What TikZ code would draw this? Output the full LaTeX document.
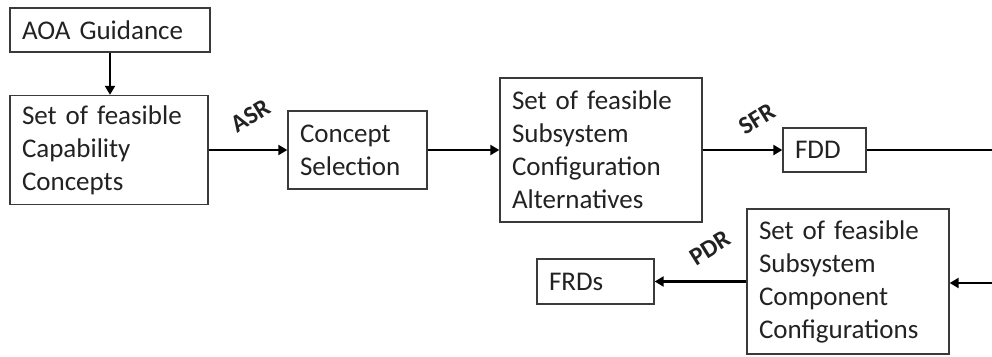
\documentclass[tikz,border=0pt]{standalone}
\usepackage{fontspec}
\setmainfont{Carlito}[WordSpace=0.55]
\usetikzlibrary{arrows.meta}
\definecolor{txt}{HTML}{222222}
\definecolor{edge}{HTML}{3A3A3A}
\begin{document}
\begin{tikzpicture}[x=1pt,y=-1pt,
  box/.style={draw=edge, line width=1.3pt, align=left, text=txt,
    inner xsep=12pt, inner ysep=0pt, anchor=center,
    font=\fontsize{27}{33}\selectfont},
  arr/.style={line width=2.2pt, -{Triangle[length=9pt,width=10pt]}},
  plain/.style={line width=2.2pt},
  lbl/.style={font=\bfseries\fontsize{25}{27}\selectfont, rotate=32, text=txt, inner sep=0pt}]
\useasboundingbox (0,0) rectangle (992,356);
\node[box, text width=176pt, minimum height=44pt] (aoa) at (110,30) {AOA Guidance};
\node[box, text width=174pt, minimum height=109pt] (cap) at (109,150) {Set of feasible\\Capability\\Concepts};
\node[box, text width=115pt, minimum height=78pt] (cs) at (357.5,150) {Concept\\Selection};
\node[box, text width=178pt, minimum height=144pt] (alt) at (601,150) {Set of feasible\\Subsystem\\Configuration\\Alternatives};
\node[box, text width=59pt, minimum height=44pt] (fdd) at (824.5,150) {FDD};
\node[box, text width=178pt, minimum height=145pt] (comp) at (848,281.5) {Set of feasible\\Subsystem\\Component\\Configurations};
\node[box, text width=93pt, minimum height=45pt] (frd) at (595.5,281.5) {FRDs};
\coordinate (r1) at (992,150);
\coordinate (r2) at (992,283);
\draw[arr] (aoa.south) -- (aoa.south |- cap.north);
\draw[arr] (cap.east) -- (cs.west);
\draw[arr] (cs.east) -- (alt.west);
\draw[arr] (alt.east) -- (fdd.west);
\draw[plain] (fdd.east) -- (r1);
\draw[arr] (r2) -- (r2 -| comp.east);
\draw[arr] (comp.west |- frd.east) -- (frd.east);
\node[lbl] (asr) at (251,116) {ASR};
\node[lbl] (sfr) at (757,119) {SFR};
\node[lbl] (pdr) at (710,248) {PDR};
\end{tikzpicture}
\end{document}
